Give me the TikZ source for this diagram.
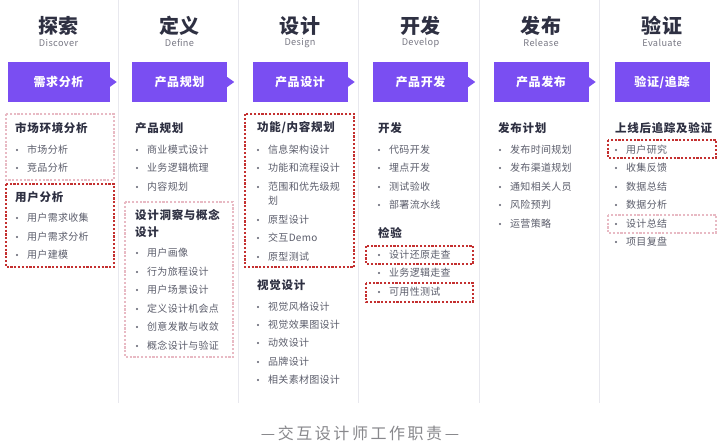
\documentclass[tikz,border=0pt]{standalone}
\usepackage{fontspec}
\setmainfont{Noto Sans CJK SC}
\usepackage{tikz}
\definecolor{bannerpurple}{RGB}{122,78,242}
\definecolor{inkdark}{RGB}{46,48,66}
\definecolor{inkgray}{RGB}{92,94,108}
\definecolor{subgray}{RGB}{120,120,132}
\definecolor{hotred}{RGB}{196,48,48}
\definecolor{softpink}{RGB}{232,186,196}
\definecolor{sepgray}{RGB}{232,232,238}
\definecolor{capgray}{RGB}{136,136,140}
\tikzset{
  coltitle/.style={font=\fontsize{20}{22}\selectfont\bfseries\addfontfeature{LetterSpace=4}, text=inkdark, inner sep=0pt},
  colsub/.style={font=\fontsize{9.2}{10}\selectfont\addfontfeature{LetterSpace=4}, text=subgray, inner sep=0pt},
  banner/.style={fill=bannerpurple, text=white, font=\fontsize{12}{14}\selectfont\bfseries\addfontfeature{LetterSpace=5},
    minimum width=95pt, minimum height=40pt, inner sep=0pt},
  headtxt/.style={anchor=west, font=\fontsize{11.5}{17}\selectfont\bfseries\addfontfeature{LetterSpace=6}, text=inkdark, inner sep=0pt},
  itemtxt/.style={anchor=west, font=\fontsize{10}{12}\selectfont\addfontfeature{LetterSpace=3}, text=inkgray, inner sep=0pt},
  bulletdot/.style={circle, fill=inkgray, inner sep=0pt, minimum size=2.4pt, xshift=-8.6pt},
  itemrow/.style={itemtxt, label={[bulletdot]left:{}}},
  hotbox/.style={draw=hotred, line width=1.6pt, dash pattern=on 2.2pt off 1.6pt},
  softbox/.style={draw=softpink, line width=1.2pt, dash pattern=on 2.2pt off 1.6pt},
  colsep/.style={draw=sepgray, line width=0.9pt},
  caption/.style={font=\fontsize{16}{18}\selectfont\addfontfeature{LetterSpace=16}, text=capgray, inner sep=0pt}
}
\begin{document}
\begin{tikzpicture}[x=1pt, y=-1pt]
  \fill[white] (0,0) rectangle (720,447);
  \useasboundingbox (0,0) rectangle (720,447);
  % column separators
  \foreach \x in {118,238,358,479,599}
    \draw[colsep] (\x,0) -- (\x,403);

  % titles
  \node[coltitle] (t1) at (58.5,26) {探索};
  \node[colsub]   (s1) at (58.5,43) {Discover};
  \node[coltitle] (t2) at (179.5,26) {定义};
  \node[colsub]   (s2) at (179.5,43) {Define};
  \node[coltitle] (t3) at (300,26) {设计};
  \node[colsub]   (s3) at (300,43) {Design};
  \node[coltitle] (t4) at (420.5,26) {开发};
  \node[colsub]   (s4) at (420.5,43) {Develop};
  \node[coltitle] (t5) at (541,26) {发布};
  \node[colsub]   (s5) at (541,43) {Release};
  \node[coltitle] (t6) at (662,26) {验证};
  \node[colsub]   (s6) at (662,43) {Evaluate};

  % banners
  \node[banner, minimum width=102pt] (b1) at (58.5,82) {需求分析};
  \node[banner] (b2) at (179.5,82) {产品规划};
  \node[banner] (b3) at (300,82) {产品设计};
  \node[banner] (b4) at (420.5,82) {产品开发};
  \node[banner] (b5) at (541,82) {产品发布};
  \node[banner] (b6) at (662,82) {验证/追踪};
  \foreach \n in {b1,b2,b3,b4,b5}
    \fill[bannerpurple] ([yshift=5pt]\n.east) -- ++(7pt,-5pt) -- ++(-7pt,-5pt) -- cycle;

  % discover
  \draw[softbox] (6,114) rectangle (114,180);
  \node[headtxt] (h1a) at (15,128) {市场环境分析};
  \node[itemrow] (i1a1) at (27,150) {市场分析};
  \node[itemrow] (i1a2) at (27,168) {竞品分析};
  \draw[hotbox] (6,184) rectangle (114,267);
  \node[headtxt] (h1b) at (15,197) {用户分析};
  \node[itemrow] (i1b1) at (27,218) {用户需求收集};
  \node[itemrow] (i1b2) at (27,237) {用户需求分析};
  \node[itemrow] (i1b3) at (27,255) {用户建模};

  % define
  \node[headtxt] (h2a) at (135,128) {产品规划};
  \node[itemrow] (i2a1) at (147,150) {商业模式设计};
  \node[itemrow] (i2a2) at (147,168) {业务逻辑梳理};
  \node[itemrow] (i2a3) at (147,187) {内容规划};
  \draw[softbox] (125,202) rectangle (233,357);
  \node[headtxt, align=left] (h2b) at (135,223.5) {设计洞察与概念\\设计};
  \node[itemrow] (i2b1) at (147,253) {用户画像};
  \node[itemrow] (i2b2) at (147,272) {行为旅程设计};
  \node[itemrow] (i2b3) at (147,290) {用户场景设计};
  \node[itemrow] (i2b4) at (147,309) {定义设计机会点};
  \node[itemrow] (i2b5) at (147,327) {创意发散与收敛};
  \node[itemrow] (i2b6) at (147,346) {概念设计与验证};

  % design
  \draw[hotbox] (245,114) rectangle (354,267);
  \node[headtxt] (h3a) at (257,128) {功能/内容规划};
  \node[itemrow] (i3a1) at (268,150) {信息架构设计};
  \node[itemrow] (i3a2) at (268,168) {功能和流程设计};
  \node[itemrow] (i3a3) at (268,187) {范围和优先级规};
  \node[itemtxt] (i3a3b) at (268,201) {划};
  \node[itemrow] (i3a4) at (268,220) {原型设计};
  \node[itemrow] (i3a5) at (268,238) {交互Demo};
  \node[itemrow] (i3a6) at (268,257) {原型测试};
  \node[headtxt] (h3b) at (257,285) {视觉设计};
  \node[itemrow] (i3b1) at (268,307) {视觉风格设计};
  \node[itemrow] (i3b2) at (268,325) {视觉效果图设计};
  \node[itemrow] (i3b3) at (268,343) {动效设计};
  \node[itemrow] (i3b4) at (268,362) {品牌设计};
  \node[itemrow] (i3b5) at (268,380) {相关素材图设计};

  % develop
  \node[headtxt] (h4a) at (378,128) {开发};
  \node[itemrow] (i4a1) at (389,150) {代码开发};
  \node[itemrow] (i4a2) at (389,168) {埋点开发};
  \node[itemrow] (i4a3) at (389,187) {测试验收};
  \node[itemrow] (i4a4) at (389,205) {部署流水线};
  \node[headtxt] (h4b) at (378,233) {检验};
  \draw[hotbox] (366,246) rectangle (473,264);
  \node[itemrow] (i4b1) at (389,255) {设计还原走查};
  \node[itemrow] (i4b2) at (389,273) {业务逻辑走查};
  \draw[hotbox] (366,283) rectangle (473,302);
  \node[itemrow] (i4b3) at (389,292) {可用性测试};

  % release
  \node[headtxt] (h5a) at (498,128) {发布计划};
  \node[itemrow] (i5a1) at (510,150) {发布时间规划};
  \node[itemrow] (i5a2) at (510,168) {发布渠道规划};
  \node[itemrow] (i5a3) at (510,187) {通知相关人员};
  \node[itemrow] (i5a4) at (510,205) {风险预判};
  \node[itemrow] (i5a5) at (510,224) {运营策略};

  % evaluate
  \node[headtxt] (h6a) at (615,128) {上线后追踪及验证};
  \draw[hotbox] (608,140) rectangle (716,158);
  \node[itemrow] (i6a1) at (626,150) {用户研究};
  \node[itemrow] (i6a2) at (626,168) {收集反馈};
  \node[itemrow] (i6a3) at (626,187) {数据总结};
  \node[itemrow] (i6a4) at (626,205) {数据分析};
  \draw[softbox] (608,215) rectangle (716,233);
  \node[itemrow] (i6a5) at (626,224) {设计总结};
  \node[itemrow] (i6a6) at (626,242) {项目复盘};

  \node[caption] (cap) at (360,433) {—交互设计师工作职责—};
\end{tikzpicture}
\end{document}
